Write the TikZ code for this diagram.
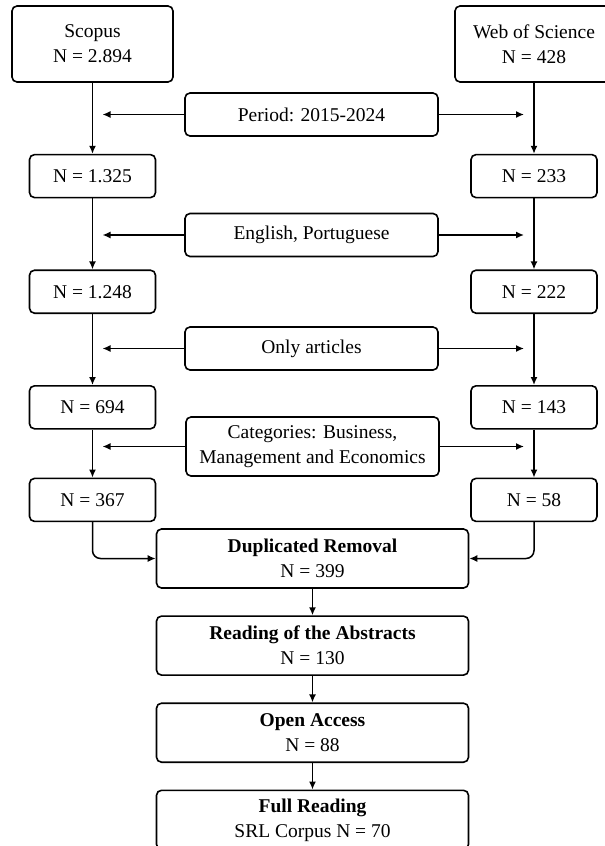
\documentclass[tikz,border=0pt]{standalone}
\usepackage{fontspec}
\setmainfont{Liberation Serif}
\usepackage{tikz}
\usetikzlibrary{arrows.meta, positioning}

\begin{document}
\begin{tikzpicture}[x=1pt, y=-1pt, node distance=71pt, >={Latex[length=8pt,width=7pt]}, every node/.style={font=\fontsize{19.5}{25}\selectfont}]
    \tikzstyle{base} = [rectangle, draw, line width=1.6pt, rounded corners=5pt, align=center, inner sep=2pt]
    \tikzstyle{source} = [base, minimum width=161pt, minimum height=76pt]
    \tikzstyle{count} = [base, minimum width=126pt, minimum height=43pt]
    \tikzstyle{filter} = [base, minimum width=253pt, minimum height=43pt]
    \tikzstyle{stage} = [base, minimum width=312pt, minimum height=59pt]
    \tikzstyle{line} = [draw, ->, line width=1.5pt]

    \useasboundingbox (0,0) rectangle (605,846);

    \node [source] (scopus) at (92.5,44) {Scopus\\N = 2.894};
    \node [source, minimum width=158pt] (wos) at (534,44) {Web of Science\\N = 428};

    \node [count, below=of scopus] (sc1) {N = 1.325};
    \node [count, below=of sc1] (sc2) {N = 1.248};
    \node [count, below=of sc2] (sc3) {N = 694};
    \node [count, below=48pt of sc3] (sc4) {N = 367};

    \node [count, below=of wos] (ws1) {N = 233};
    \node [count, below=of ws1] (ws2) {N = 222};
    \node [count, below=of ws2] (ws3) {N = 143};
    \node [count, below=48pt of ws3] (ws4) {N = 58};

    \node [filter] (period) at (311.5,114.5) {Period: 2015-2024};
    \node [filter] (language) at (311.5,235) {English, Portuguese};
    \node [filter] (articles) at (311.5,348.5) {Only articles};
    \node [filter, minimum height=59pt] (categories) at (312.5,446.5) {Categories: Business,\\Management and Economics};

    \node [stage] (dup) at (312.5,558.5) {\textbf{Duplicated Removal}\\N = 399};
    \node [stage, below=26.5pt of dup] (abstracts) {\textbf{Reading of the Abstracts}\\N = 130};
    \node [stage, below=26.5pt of abstracts] (access) {\textbf{Open Access}\\N = 88};
    \node [stage, below=26.5pt of access] (full) {\textbf{Full Reading}\\SRL Corpus N = 70};

    \foreach \a/\b in {scopus/sc1, sc1/sc2, sc2/sc3, sc3/sc4, wos/ws1, ws1/ws2, ws2/ws3, ws3/ws4, dup/abstracts, abstracts/access, access/full}
        \path [line] (\a) -- (\b);

    \foreach \f in {period, language, articles, categories} {
        \path [line, shorten >=10pt] (\f) -- (\f -| sc1);
        \path [line, shorten >=10pt] (\f) -- (\f -| ws1);
    }

    \path [line, rounded corners=8pt] (sc4) |- (dup);
    \path [line, rounded corners=8pt] (ws4) |- (dup);
\end{tikzpicture}
\end{document}
